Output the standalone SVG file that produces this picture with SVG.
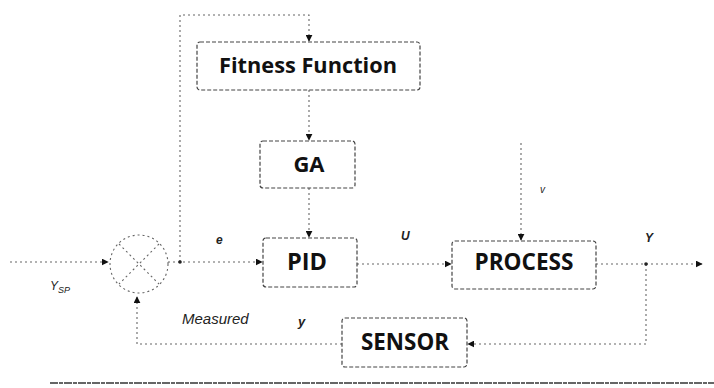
<svg xmlns="http://www.w3.org/2000/svg" width="714" height="388" viewBox="0 0 714 388">
<defs>
<marker id="arr" viewBox="0 0 10 10" refX="9" refY="5" markerWidth="7" markerHeight="7" orient="auto" markerUnits="userSpaceOnUse">
<path d="M0,0 L10,5 L0,10 z" fill="#111"/>
</marker>
</defs>
<style>
.box{fill:none;stroke:#444;stroke-width:1.2;stroke-dasharray:4 2}
.ln{fill:none;stroke:#666;stroke-width:1.1;stroke-dasharray:2 3}
.lbl{font-family:"Open Sans","Noto Sans",sans-serif;font-weight:bold;fill:#111;text-anchor:middle}
.it{font-family:"Liberation Sans",Arial,sans-serif;font-style:italic;fill:#222}
</style>
<rect width="714" height="388" fill="#fff"/>
<g id="connectors">
<path class="ln" d="M10,262 L108,262" marker-end="url(#arr)"/>
<path class="ln" d="M168,262 L262,262" marker-end="url(#arr)"/>
<path class="ln" d="M180,262 L180,15 L309,15 L309,41" marker-end="url(#arr)"/>
<path class="ln" d="M309,90 L309,140" marker-end="url(#arr)"/>
<path class="ln" d="M309,188 L309,237" marker-end="url(#arr)"/>
<path class="ln" d="M357,264 L451,264" marker-end="url(#arr)"/>
<path class="ln" d="M521,143 L521,240" marker-end="url(#arr)"/>
<path class="ln" d="M596,264 L702,264" marker-end="url(#arr)"/>
<path class="ln" d="M646,264 L646,344 L468,344" marker-end="url(#arr)"/>
<path class="ln" d="M342,344 L137,344 L137,297" marker-end="url(#arr)"/>
<circle cx="180" cy="262" r="1.8" fill="#222"/>
<circle cx="646" cy="264" r="1.8" fill="#222"/>
</g>
<g id="sum">
<circle cx="139" cy="264" r="29" class="ln"/>
<path class="ln" d="M119,244 L159,284 M159,244 L119,284"/>
</g>
<g id="fitness">
<rect class="box" x="197" y="42" width="223" height="48" rx="3"/>
<text class="lbl" x="308" y="73" font-size="21" textLength="178" lengthAdjust="spacingAndGlyphs">Fitness Function</text>
</g>
<g id="ga">
<rect class="box" x="260" y="141" width="95" height="47" rx="3"/>
<text class="lbl" x="309" y="172" font-size="22">GA</text>
</g>
<g id="pid">
<rect class="box" x="263" y="238" width="94" height="49" rx="3"/>
<text class="lbl" x="307" y="270" font-size="23" textLength="40" lengthAdjust="spacingAndGlyphs">PID</text>
</g>
<g id="process">
<rect class="box" x="452" y="241" width="144" height="48" rx="3"/>
<text class="lbl" x="524" y="270" font-size="23" textLength="99" lengthAdjust="spacingAndGlyphs">PROCESS</text>
</g>
<g id="sensor">
<rect class="box" x="342" y="318" width="125" height="49" rx="3"/>
<text class="lbl" x="405" y="350" font-size="23" textLength="88" lengthAdjust="spacingAndGlyphs">SENSOR</text>
</g>
<g id="labels">
<text class="it" x="50" y="290" font-size="12">Y<tspan font-size="9" dy="3">SP</tspan></text>
<text class="it" x="216" y="244" font-size="12" font-weight="bold">e</text>
<text class="it" x="401" y="240" font-size="12" font-weight="bold">U</text>
<text class="it" x="540" y="193" font-size="10">v</text>
<text class="it" x="645" y="242" font-size="12" font-weight="bold">Y</text>
<text class="it" x="182" y="324" font-size="15">Measured</text>
<text class="it" x="298" y="326" font-size="13" font-weight="bold">y</text>
</g>
<line x1="50" y1="383" x2="714" y2="383" stroke="#666" stroke-width="2" stroke-dasharray="8 1 4 1"/>
</svg>
